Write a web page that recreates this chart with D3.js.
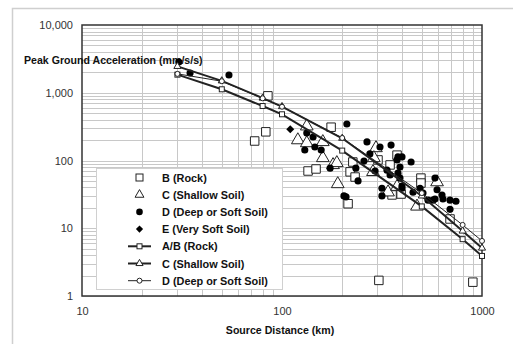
<!DOCTYPE html>
<html><head><meta charset="utf-8">
<script src="https://cdn.jsdelivr.net/npm/d3@7"></script>
<style>
html,body{margin:0;padding:0;background:#fff;}
svg{display:block;font-family:"Liberation Sans",Arial,sans-serif;}
</style></head>
<body>
<svg id="chart" width="513" height="344"></svg>
<script>
// ---- data ----
const xTicks = [10, 100, 1000];
const xTickLabels = ["10", "100", "1000"];
const yTicks = [1, 10, 100, 1000, 10000];
const yTickLabels = ["1", "10", "100", "1,000", "10,000"];

// scatter observations [distance km, PGA mm/s/s]
const siteB = [[73,194],[83,265],[85,900],[176,310],[135,70],[148,75],[226,95],[219,68],[232,57],[214,23],
  [302,102],[376,120],[347,86],[495,55],[495,46.5],[355,31],[394,32],[692,13.7],[305,1.7],[900,1.6]];
const siteC = [[133,320],[120,200],[160,188],[133,181],[295,153],[288,109],[160,109],[180,86],[188,92],
  [190,45],[285,68],[339,34],[376,41],[473,21],[596,48]];
const siteD = [[30.5,2844],[34.7,1955],[54.3,1828],[211,346],[133,255],[143,222],[146,158],[130,143],[157,143],
  [174,77],[204,30],[209,29],[240,50],[234,77],[257,98],[266,188],[275,125],[309,158],[351,169],[292,70],
  [335,72],[347,61],[376,102],[380,113],[398,113],[389,80],[380,65],[389,55],[398,42],[442,95],[316,39],
  [316,30],[398,39],[452,34],[490,39],[507,33],[537,26],[582,55],[596,37],[631,31],[638,27],[582,27],
  [692,26],[741,25],[692,19],[569,26]];
const siteE = [[110,290]];

// model curves
const curveDist = [30, 50, 80, 100, 200, 500, 800, 1000];
const curveAB = [1850, 1125, 637, 481, 140, 21, 6.9, 3.9];
const curveC  = [2450, 1500, 835, 625, 213, 30, 9.1, 5.1];
const curveD  = [1900, 1480, 828, 622, 215, 33, 11.2, 6.5];

const legendLabels = ["B  (Rock)", "C  (Shallow Soil)", "D  (Deep or Soft Soil)", "E  (Very Soft Soil)",
  "A/B (Rock)", "C  (Shallow Soil)", "D  (Deep or Soft Soil)"];

// ---- drawing ----
const svg = d3.select("#chart");
const L = 82, R = 482, T = 25, B = 296;
const x = d3.scaleLog().domain([10, 1000]).range([L, R]);
const y = d3.scaleLog().domain([1, 10000]).range([B, T]);
const ink = "#222";

// outer frame
svg.append("path").attr("d", "M12.5,344 V8.5 H513").attr("fill", "none").attr("stroke", "#cfcfcf").attr("stroke-width", 1.5);

// grid
const gx = [], gy = [];
for (const dec of [10, 100]) for (let k = 2; k <= 9; k++) gx.push(dec * k);
for (const dec of [1, 10, 100, 1000]) for (let k = 1; k <= 9; k++) gy.push(dec * k);
const grid = svg.append("g").attr("stroke", "#c8c8c8").attr("stroke-width", 1).attr("shape-rendering", "crispEdges");
grid.selectAll("line.v").data(gx).join("line").attr("x1", d => Math.round(x(d)) + 0.5).attr("x2", d => Math.round(x(d)) + 0.5)
  .attr("y1", T).attr("y2", B);
grid.selectAll("line.h").data(gy).join("line").attr("y1", d => Math.round(y(d)) + 0.5).attr("y2", d => Math.round(y(d)) + 0.5)
  .attr("x1", L).attr("x2", R);

// axes (labels only)
const xAxis = d3.axisBottom(x).tickValues(xTicks).tickFormat((d, i) => xTickLabels[i]).tickSize(0).tickPadding(11);
const gX = svg.append("g").attr("transform", `translate(0,${B})`).call(xAxis);
gX.select(".domain").remove();
gX.selectAll("text").attr("font-size", 11).attr("fill", "#333").attr("font-family", "Liberation Sans, Arial");

const yAxis = d3.axisLeft(y).tickValues(yTicks).tickFormat((d, i) => yTickLabels[i]).tickSize(0).tickPadding(9);
const gY = svg.append("g").attr("transform", `translate(${L},0)`).call(yAxis);
gY.select(".domain").remove();
gY.selectAll("text").attr("font-size", 11).attr("fill", "#333").attr("font-family", "Liberation Sans, Arial");

// plot border
svg.append("rect").attr("x", L).attr("y", T).attr("width", R - L).attr("height", B - T)
  .attr("fill", "none").attr("stroke", "#333").attr("stroke-width", 1.5);

// titles
svg.append("text").attr("x", 24).attr("y", 64).attr("font-size", 10.6).attr("font-weight", "bold").attr("fill", "#111")
  .text("Peak Ground Acceleration (mm/s/s)");
svg.append("text").attr("x", 280).attr("y", 334).attr("text-anchor", "middle").attr("font-size", 10.6).attr("font-weight", "bold").attr("fill", "#111")
  .text("Source Distance (km)");

// symbol helpers
const sym = (type, size) => d3.symbol().type(type).size(size)();

// scatter
const plot = svg.append("g");
plot.selectAll("path.b").data(siteB).join("path")
  .attr("transform", d => `translate(${x(d[0])},${y(d[1])})`).attr("d", sym(d3.symbolSquare, 72))
  .attr("fill", "#fff").attr("stroke", ink).attr("stroke-width", 1);
plot.selectAll("path.c").data(siteC).join("path")
  .attr("transform", d => `translate(${x(d[0])},${y(d[1])})`).attr("d", sym(d3.symbolTriangle, 70))
  .attr("fill", "#fff").attr("stroke", ink).attr("stroke-width", 1);
plot.selectAll("path.d").data(siteD).join("path")
  .attr("transform", d => `translate(${x(d[0])},${y(d[1])})`).attr("d", sym(d3.symbolCircle, 40))
  .attr("fill", "#000");
plot.selectAll("path.e").data(siteE).join("path")
  .attr("transform", d => `translate(${x(d[0])},${y(d[1])}) rotate(45)`).attr("d", sym(d3.symbolSquare, 32))
  .attr("fill", "#000");

// curves
const line = d3.line().x(d => x(d[0])).y(d => y(d[1]));
const curves = [
  {vals: curveAB, w: 2, marker: "square"},
  {vals: curveC, w: 2, marker: "triangle"},
  {vals: curveD, w: 1, marker: "circle"}
];
const drawMarker = (g, type, cx, cy) => {
  if (type === "square") g.append("rect").attr("x", cx - 2.5).attr("y", cy - 2.5).attr("width", 5).attr("height", 5)
    .attr("fill", "#fff").attr("stroke", ink).attr("stroke-width", 1);
  else if (type === "triangle") g.append("path").attr("transform", `translate(${cx},${cy})`).attr("d", sym(d3.symbolTriangle, 22))
    .attr("fill", "#fff").attr("stroke", ink).attr("stroke-width", 1);
  else g.append("circle").attr("cx", cx).attr("cy", cy).attr("r", 2.5).attr("fill", "#fff").attr("stroke", ink).attr("stroke-width", 1);
};
curves.forEach(c => {
  const pts = curveDist.map((d, i) => [d, c.vals[i]]);
  const g = plot.append("g");
  g.append("path").attr("d", line(pts)).attr("fill", "none").attr("stroke", ink).attr("stroke-width", c.w);
  pts.forEach(p => drawMarker(g, c.marker, x(p[0]), y(p[1])));
});

// legend
const lg = svg.append("g");
lg.append("rect").attr("x", 96.5).attr("y", 168.5).attr("width", 186).attr("height", 121)
  .attr("fill", "#fff").attr("stroke", "#d0d0d0").attr("stroke-width", 1);
const rowY = i => 177.5 + i * 17.2;
const sx = 139.5;
legendLabels.forEach((t, i) => {
  lg.append("text").attr("x", 162).attr("y", rowY(i) + 4).attr("font-size", 10.9).attr("font-weight", "bold").attr("fill", "#111").text(t);
});
lg.append("rect").attr("x", sx - 3.5).attr("y", rowY(0) - 3.5).attr("width", 7).attr("height", 7).attr("fill", "#fff").attr("stroke", ink);
lg.append("path").attr("transform", `translate(${sx},${rowY(1)})`).attr("d", sym(d3.symbolTriangle, 34)).attr("fill", "#fff").attr("stroke", ink);
lg.append("circle").attr("cx", sx).attr("cy", rowY(2)).attr("r", 3.3).attr("fill", "#000");
lg.append("path").attr("transform", `translate(${sx},${rowY(3)}) rotate(45)`).attr("d", sym(d3.symbolSquare, 26)).attr("fill", "#000");
[["square", 2], ["triangle", 2], ["circle", 1]].forEach((m, j) => {
  const yy = rowY(4 + j);
  lg.append("line").attr("x1", 128).attr("x2", 151).attr("y1", yy).attr("y2", yy).attr("stroke", ink).attr("stroke-width", m[1]);
  drawMarker(lg, m[0], sx, yy);
});
</script>
</body></html>
